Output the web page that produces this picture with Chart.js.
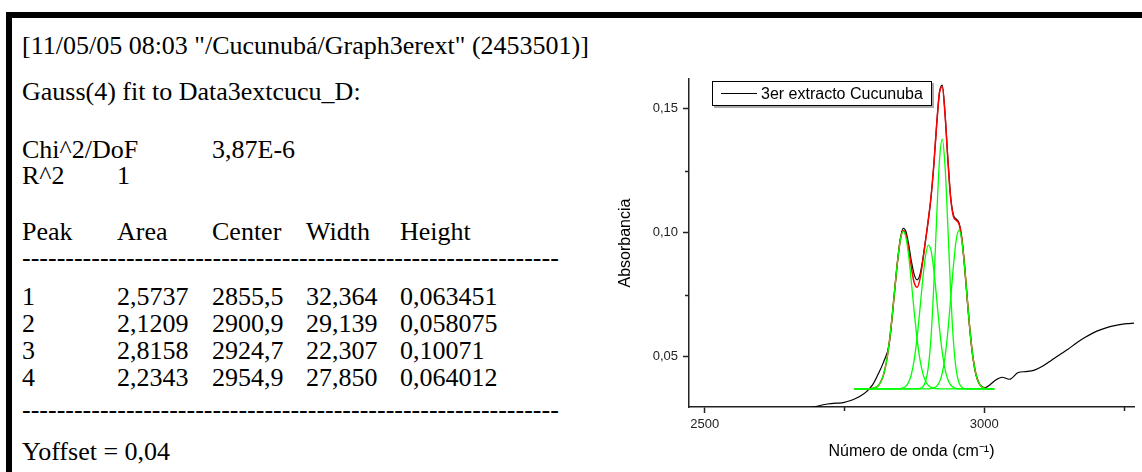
<!DOCTYPE html>
<html>
<head>
<meta charset="utf-8">
<script src="https://cdn.jsdelivr.net/npm/chart.js@4"></script>
<style>
  body { margin: 0; background: #fff; width: 1142px; height: 472px; overflow: hidden; position: relative; }
  .bar { position: absolute; background: #000; }
  .txt { position: absolute; font-family: "Liberation Serif", serif; font-size: 26px; line-height: 30px; white-space: pre; color: #000; }
  #chartBox { position: absolute; left: 600px; top: 60px; width: 542px; height: 412px; }
  #legend { position: absolute; left: 712px; top: 81px; width: 220px; height: 25px; box-sizing: border-box;
            border: 1px solid #000; background: #fff; box-shadow: 2px 2px 0 #aaa;
            font-family: "Liberation Sans", Arial, sans-serif; font-size: 16px; }
  #legend .sample { position: absolute; left: 8px; top: 11px; width: 36px; height: 1px; background: #000; }
  #legend .label { position: absolute; left: 48px; top: 2px; line-height: 19px; }
</style>
</head>
<body>
<div class="bar" style="left:6px;top:12px;width:1136px;height:6px"></div>
<div class="bar" style="left:6px;top:12px;width:6px;height:460px"></div>
<div id="report"></div>
<div id="chartBox"><canvas id="fitChart" width="542" height="412"></canvas></div>
<div id="legend"><div class="sample"></div><span class="label"></span></div>
<script>
// axis ranges and ticks
const xMin = 2472, xMax = 3268;
const yMin = 0.0297, yMax = 0.162;
const xTicks = [2500, 3000];
const xMinorTicks = [2750, 3250];
const yTicks = [0.05, 0.10, 0.15];
const yMinorTicks = [0.075, 0.125];

// measured spectrum (black)
const spectrumLabel = '3er extracto Cucunuba';
const spectrumWavenumbers = [2680, 2697, 2710, 2720, 2730, 2740, 2750, 2760, 2770, 2780,
  2790, 2800, 2810, 2820, 2830, 2835, 2840, 2845, 2850, 2855,
  2860, 2865, 2870, 2875, 2880, 2885, 2890, 2895, 2900, 2905,
  2910, 2915, 2920, 2925, 2930, 2935, 2940, 2945, 2950, 2955,
  2960, 2965, 2970, 2975, 2980, 2985, 2990, 2995, 3002, 3010,
  3020, 3032, 3045, 3061, 3075, 3090, 3105, 3120, 3135, 3150,
  3165, 3180, 3195, 3210, 3225, 3240, 3255, 3268];
const spectrumAbsorbance = [0.0290, 0.0298, 0.0305, 0.0309, 0.0312, 0.0313, 0.0316, 0.0322, 0.0331, 0.0343,
  0.0360, 0.0385, 0.0428, 0.0478, 0.0550, 0.0650, 0.0770, 0.0885, 0.0975, 0.1018,
  0.1005, 0.0952, 0.0882, 0.0830, 0.0810, 0.0830, 0.0890, 0.0968, 0.1050, 0.1145,
  0.1275, 0.1435, 0.1565, 0.1595, 0.1480, 0.1300, 0.1145, 0.1072, 0.1055, 0.1040,
  0.0978, 0.0865, 0.0725, 0.0594, 0.0494, 0.0430, 0.0396, 0.0381, 0.0375, 0.0386,
  0.0405, 0.0417, 0.0409, 0.0436, 0.0440, 0.0446, 0.0462, 0.0485, 0.0508, 0.0530,
  0.0555, 0.0577, 0.0596, 0.0610, 0.0621, 0.0628, 0.0633, 0.0635];

// fitted curves on a common grid
const fitWavenumbers = [2768, 2770, 2775, 2780, 2785, 2790, 2795, 2800, 2805, 2810,
  2815, 2820, 2825, 2830, 2835, 2840, 2845, 2850, 2855, 2860,
  2865, 2870, 2875, 2880, 2885, 2890, 2895, 2900, 2905, 2910,
  2915, 2920, 2925, 2930, 2935, 2940, 2945, 2950, 2955, 2960,
  2965, 2970, 2975, 2980, 2985, 2990, 2995, 3000, 3005, 3010,
  3015, 3018];
const peak1 = [0.0370, 0.0370, 0.0370, 0.0370, 0.0370, 0.0370, 0.0371, 0.0372, 0.0375, 0.0382,
  0.0398, 0.0427, 0.0477, 0.0553, 0.0654, 0.0771, 0.0884, 0.0970, 0.1005, 0.0981,
  0.0905, 0.0795, 0.0677, 0.0572, 0.0490, 0.0435, 0.0402, 0.0384, 0.0376, 0.0372,
  0.0371, 0.0370, 0.0370, 0.0370, 0.0370, 0.0370, 0.0370, 0.0370, 0.0370, 0.0370,
  0.0370, 0.0370, 0.0370, 0.0370, 0.0370, 0.0370, 0.0370, 0.0370, 0.0370, 0.0370,
  0.0370, 0.0370];
const peak2 = [0.0370, 0.0370, 0.0370, 0.0370, 0.0370, 0.0370, 0.0370, 0.0370, 0.0370, 0.0370,
  0.0370, 0.0370, 0.0370, 0.0370, 0.0370, 0.0370, 0.0370, 0.0371, 0.0374, 0.0381,
  0.0398, 0.0431, 0.0490, 0.0578, 0.0690, 0.0809, 0.0905, 0.0950, 0.0928, 0.0848,
  0.0734, 0.0616, 0.0518, 0.0449, 0.0408, 0.0386, 0.0376, 0.0372, 0.0370, 0.0370,
  0.0370, 0.0370, 0.0370, 0.0370, 0.0370, 0.0370, 0.0370, 0.0370, 0.0370, 0.0370,
  0.0370, 0.0370];
const peak3 = [0.0370, 0.0370, 0.0370, 0.0370, 0.0370, 0.0370, 0.0370, 0.0370, 0.0370, 0.0370,
  0.0370, 0.0370, 0.0370, 0.0370, 0.0370, 0.0370, 0.0370, 0.0370, 0.0370, 0.0370,
  0.0370, 0.0370, 0.0370, 0.0370, 0.0372, 0.0378, 0.0399, 0.0457, 0.0581, 0.0792,
  0.1060, 0.1291, 0.1377, 0.1269, 0.1027, 0.0763, 0.0562, 0.0447, 0.0395, 0.0377,
  0.0371, 0.0370, 0.0370, 0.0370, 0.0370, 0.0370, 0.0370, 0.0370, 0.0370, 0.0370,
  0.0370, 0.0370];
const peak4 = [0.0370, 0.0370, 0.0370, 0.0370, 0.0370, 0.0370, 0.0370, 0.0370, 0.0370, 0.0370,
  0.0370, 0.0370, 0.0370, 0.0370, 0.0370, 0.0370, 0.0370, 0.0370, 0.0370, 0.0370,
  0.0370, 0.0370, 0.0370, 0.0370, 0.0370, 0.0370, 0.0370, 0.0370, 0.0371, 0.0374,
  0.0381, 0.0398, 0.0434, 0.0499, 0.0601, 0.0731, 0.0867, 0.0971, 0.1010, 0.0968,
  0.0862, 0.0725, 0.0596, 0.0496, 0.0432, 0.0397, 0.0380, 0.0373, 0.0371, 0.0370,
  0.0370, 0.0370];
const fitTotal = [0.0370, 0.0370, 0.0370, 0.0370, 0.0370, 0.0370, 0.0371, 0.0372, 0.0375, 0.0382,
  0.0398, 0.0427, 0.0477, 0.0553, 0.0654, 0.0771, 0.0884, 0.0971, 0.1009, 0.0992,
  0.0933, 0.0856, 0.0797, 0.0780, 0.0812, 0.0882, 0.0966, 0.1051, 0.1146, 0.1276,
  0.1436, 0.1565, 0.1589, 0.1477, 0.1296, 0.1140, 0.1065, 0.1050, 0.1035, 0.0975,
  0.0863, 0.0725, 0.0596, 0.0496, 0.0432, 0.0397, 0.0380, 0.0373, 0.0371, 0.0370,
  0.0370, 0.0370];

// fit report text
const reportHeader = '[11/05/05 08:03 "/Cucunubá/Graph3erext" (2453501)]';
const reportTitle = 'Gauss(4) fit to Data3extcucu_D:';
const fitStats = [['Chi^2/DoF', '3,87E-6'], ['R^2', '1']];
const peakColumns = ['Peak', 'Area', 'Center', 'Width', 'Height'];
const peakRows = [
  ['1', '2,5737', '2855,5', '32,364', '0,063451'],
  ['2', '2,1209', '2900,9', '29,139', '0,058075'],
  ['3', '2,8158', '2924,7', '22,307', '0,10071'],
  ['4', '2,2343', '2954,9', '27,850', '0,064012']
];
const yOffsetText = 'Yoffset = 0,04';

// report layout
const colX = [22, 117, 212, 306, 400];
const dashes = '-'.repeat(62);
function addText(text, left, centerY) {
  const d = document.createElement('div');
  d.className = 'txt';
  d.textContent = text;
  d.style.left = left + 'px';
  d.style.top = (centerY - 15) + 'px';
  document.getElementById('report').appendChild(d);
}
addText(reportHeader, 22, 46);
addText(reportTitle, 22, 92);
fitStats.forEach((s, i) => {
  const y = 150 + i * 26;
  addText(s[0], 22, y);
  addText(s[1], i === 0 ? 212 : 117, y);
});
peakColumns.forEach((c, i) => addText(c, colX[i], 232));
addText(dashes, 22, 258);
peakRows.forEach((row, r) => {
  row.forEach((c, i) => addText(c, colX[i], 297 + r * 27));
});
addText(dashes, 22, 410);
addText(yOffsetText, 22, 452);

document.querySelector('#legend .label').textContent = spectrumLabel;

const axisColor = '#222';
const minorTicks = {
  id: 'minorTicks',
  afterDraw(chart) {
    const ctx = chart.ctx;
    const xs = chart.scales.x, ys = chart.scales.y;
    ctx.save();
    ctx.strokeStyle = axisColor;
    ctx.lineWidth = 1.5;
    ctx.beginPath();
    yMinorTicks.forEach(v => {
      const py = Math.round(ys.getPixelForValue(v)) + 0.5;
      ctx.moveTo(xs.left - 4, py);
      ctx.lineTo(xs.left, py);
    });
    xMinorTicks.forEach(v => {
      const px = Math.round(xs.getPixelForValue(v)) + 0.5;
      ctx.moveTo(px, ys.bottom);
      ctx.lineTo(px, ys.bottom + 4);
    });
    ctx.stroke();
    ctx.restore();
  }
};

function line(label, xs, ys, color, width, order) {
  return {
    label: label,
    data: xs.map((x, i) => ({ x: x, y: ys[i] })),
    borderColor: color,
    borderWidth: width,
    pointRadius: 0,
    fill: false,
    cubicInterpolationMode: 'monotone',
    order: order
  };
}

const tickFont = { family: '"Liberation Sans", Arial, sans-serif', size: 13 };
const titleFont = { family: '"Liberation Sans", Arial, sans-serif', size: 16 };
const green = '#00ff00';

new Chart(document.getElementById('fitChart'), {
  type: 'line',
  data: {
    datasets: [
      line('Peak 1', fitWavenumbers, peak1, green, 1.3, 0),
      line('Peak 2', fitWavenumbers, peak2, green, 1.3, 0),
      line('Peak 3', fitWavenumbers, peak3, green, 1.3, 0),
      line('Peak 4', fitWavenumbers, peak4, green, 1.3, 0),
      line('Fit', fitWavenumbers, fitTotal, '#ff0000', 1.5, 1),
      line(spectrumLabel, spectrumWavenumbers, spectrumAbsorbance, '#000000', 1.2, 2)
    ]
  },
  options: {
    responsive: false,
    animation: false,
    devicePixelRatio: 1,
    layout: { padding: { top: 19, right: 8, left: 0, bottom: 0 } },
    plugins: { legend: { display: false }, tooltip: { enabled: false } },
    scales: {
      x: {
        type: 'linear',
        min: xMin,
        max: xMax,
        afterBuildTicks: (scale) => { scale.ticks = xTicks.map(v => ({ value: v })); },
        afterFit: (scale) => { scale.height = 65; },
        grid: { display: true, drawOnChartArea: false, drawTicks: true, tickLength: 6, tickWidth: 1.5, tickColor: axisColor },
        border: { display: true, color: axisColor, width: 1.5 },
        ticks: { font: tickFont, color: '#222', padding: 4, maxRotation: 0, callback: (v) => String(v) },
        title: { display: true, text: 'Número de onda (cm⁻¹)', font: titleFont, color: '#000', padding: { top: 0, bottom: 11 } }
      },
      y: {
        type: 'linear',
        min: yMin,
        max: yMax,
        afterBuildTicks: (scale) => { scale.ticks = yTicks.map(v => ({ value: v })); },
        afterFit: (scale) => { scale.width = 89; },
        grid: { display: true, drawOnChartArea: false, drawTicks: true, tickLength: 6, tickWidth: 1.5, tickColor: axisColor },
        border: { display: true, color: axisColor, width: 1.5 },
        ticks: { font: tickFont, color: '#222', padding: 5, callback: (v) => v.toFixed(2).replace('.', ',') },
        title: { display: true, text: 'Absorbancia', font: titleFont, color: '#000', padding: { top: 16, bottom: 0 } }
      }
    }
  },
  plugins: [minorTicks]
});
</script>
</body>
</html>
